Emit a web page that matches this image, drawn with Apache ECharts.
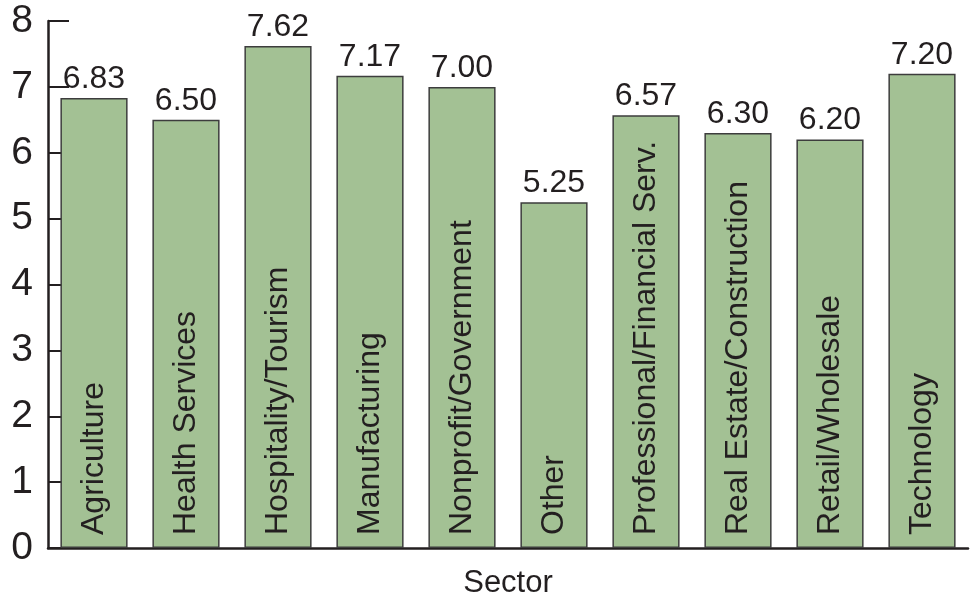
<!DOCTYPE html>
<html><head><meta charset="utf-8">
<script src="https://cdn.jsdelivr.net/npm/echarts@6/dist/echarts.min.js"></script>
<style>html,body{margin:0;padding:0;background:#fff;overflow:hidden}#c{width:970px;height:603px}</style>
</head><body><div id="c"></div>
<script>
var categories = ["Agriculture","Health Services","Hospitality/Tourism","Manufacturing","Nonprofit/Government","Other","Professional/Financial Serv.","Real Estate/Construction","Retail/Wholesale","Technology"];
var values = [6.83, 6.50, 7.62, 7.17, 7.00, 5.25, 6.57, 6.30, 6.20, 7.20];
var yTicks = [0,1,2,3,4,5,6,7,8];
var xTitle = "Sector";

var FONT = "Liberation Sans, Arial, sans-serif";
var TXT = "#231f20";
var chart = echarts.init(document.getElementById('c'), null, {renderer:'canvas'});
chart.setOption({
  animation:false,
  backgroundColor:'#fff',
  grid:{left:48,right:2,top:21,bottom:55,containLabel:false,outerBoundsMode:'none'},
  xAxis:{
    type:'category', data:categories,
    name:xTitle, nameLocation:'middle', nameGap:20,
    nameTextStyle:{fontFamily:FONT,fontSize:31,color:TXT,verticalAlign:'top'},
    axisLine:{lineStyle:{color:TXT,width:2.5}},
    axisTick:{inside:true,length:12,lineStyle:{color:TXT,width:2}},
    axisLabel:{show:false},
    splitLine:{show:false}
  },
  yAxis:{
    type:'value', min:yTicks[0], max:yTicks[yTicks.length-1], interval:1,
    axisLine:{show:true,lineStyle:{color:TXT,width:2.5}},
    axisTick:{show:true,inside:true,length:21,lineStyle:{color:TXT,width:2}},
    axisLabel:{fontFamily:FONT,fontSize:39,color:TXT,margin:15},
    splitLine:{show:false}
  },
  series:[
    {
      type:'bar', data:values, barCategoryGap:'27%',
      itemStyle:{color:'#a3c194',borderColor:'#3d3d3d',borderWidth:1.5},
      label:{show:true,position:'top',distance:3,fontFamily:FONT,fontSize:32,color:TXT,
        formatter:function(p){return p.value.toFixed(2);}}
    },
    {
      type:'bar', data:values, barGap:'-100%', barCategoryGap:'27%', silent:true, z:3,
      itemStyle:{color:'rgba(0,0,0,0)',borderWidth:0},
      label:{show:true,position:'insideBottom',distance:13,rotate:90,align:'left',verticalAlign:'middle',
        fontFamily:FONT,fontSize:32,color:TXT,
        formatter:function(p){return categories[p.dataIndex];}}
    }
  ]
});
</script></body></html>
